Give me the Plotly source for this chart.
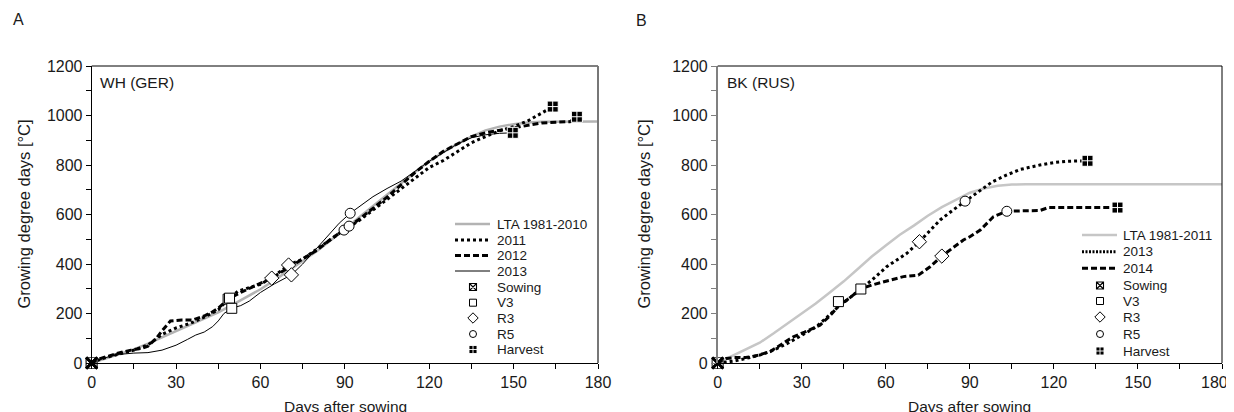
import plotly.graph_objects as go

W, H = 1234, 412
OX, OY = 8, 8   # page body offset of the figure in the browser window
FONT = "Arial, Liberation Sans, sans-serif"

# ---------------- Panel A : WH (GER) ----------------
A_lta_days = [0, 5, 10, 15, 20, 25, 30, 35, 40, 45, 50, 55, 60, 65, 70, 75, 80, 85, 90, 95, 100, 105,
              110, 115, 120, 125, 130, 135, 140, 145, 150, 155, 160, 165, 170, 175, 180]
A_lta_gdd = [0, 18, 36, 55, 78, 103, 128, 152, 178, 205, 235, 265, 298, 335, 372, 412, 452, 495, 540, 588,
             635, 682, 728, 772, 815, 852, 885, 915, 940, 955, 965, 972, 975, 976, 976, 976, 976]

A_2011_days = [0, 3, 6, 10, 15, 20, 25, 30, 35, 40, 45, 48.5, 52, 57, 60, 65, 70, 75, 80, 85, 89.7, 95,
               100, 105, 110, 115, 120, 125, 130, 135, 140, 145, 150, 155, 160, 163.9]
A_2011_gdd = [0, 15, 25, 38, 52, 73, 115, 142, 160, 185, 215, 258, 290, 308, 318, 352, 396, 420, 460, 500,
              537, 575, 618, 660, 705, 748, 790, 818, 855, 890, 915, 938, 955, 978, 1010, 1036]

A_2012_days = [0, 3, 6, 10, 14, 18, 20, 23, 25, 28, 32, 36, 40, 43, 45, 49, 53, 57, 60, 64, 68, 72, 76, 80,
               85, 91.5, 95, 100, 105, 110, 115, 120, 125, 130, 135, 140, 145, 150, 155, 160, 165, 170, 172.5]
A_2012_gdd = [0, 18, 28, 42, 52, 60, 68, 100, 130, 170, 174, 174, 190, 207, 222, 262, 285, 305, 322, 343,
              372, 400, 425, 455, 500, 553, 580, 625, 670, 720, 770, 815, 855, 885, 915, 930, 940, 950, 962,
              970, 973, 975, 995]

A_2013_days = [0, 3, 6, 10, 15, 20, 25, 30, 34, 37, 40, 43, 45, 47, 49.8, 53, 56, 60, 65, 71, 75, 80, 85,
               88, 91.9, 95, 100, 105, 110, 115, 120, 125, 130, 135, 140, 145, 149.7]
A_2013_gdd = [0, 15, 25, 35, 40, 42, 52, 72, 95, 113, 125, 147, 170, 200, 221, 232, 250, 285, 320, 356, 400,
              462, 525, 565, 605, 630, 672, 705, 735, 775, 815, 850, 885, 910, 922, 928, 930]

A_sow_x, A_sow_y = [0, 0, 0], [0, 0, 0]
A_v3_x, A_v3_y = [48.5, 49, 49.8], [258, 262, 221]
A_r3_x, A_r3_y = [70, 64, 71], [396, 343, 356]
A_r5_x, A_r5_y = [89.7, 91.5, 91.9], [537, 553, 605]
A_hv_x, A_hv_y = [163.9, 172.5, 149.7], [1036, 995, 930]

# ---------------- Panel B : BK (RUS) ----------------
B_lta_days = [0, 5, 10, 15, 20, 25, 30, 35, 40, 45, 50, 55, 60, 65, 70, 75, 80, 85, 90, 95, 100, 105, 110, 180]
B_lta_gdd = [0, 28, 55, 82, 120, 160, 197, 240, 285, 330, 380, 430, 475, 518, 555, 595, 630, 660, 688, 705,
             716, 721, 722, 722]

B_2013_days = [0, 3, 6, 10, 15, 20, 25, 30, 35, 40, 43.1, 47, 51.1, 55, 60.3, 64, 67.5, 72, 76, 79.4, 84,
               88.3, 93.7, 98, 103.2, 108, 115, 120, 124.6, 128, 132]
B_2013_gdd = [0, 4, 8, 18, 32, 52, 80, 112, 145, 195, 228, 262, 299, 335, 389, 415, 443, 490, 540, 578, 618,
              654, 699, 732, 760, 782, 800, 810, 815, 817, 817]

B_2014_days = [0, 3, 6, 10, 14, 18.7, 22, 27, 31, 36.5, 40, 43.1, 47, 51.1, 55, 59, 63, 66.3, 71.6, 75.8, 80,
               84, 87.7, 90, 93.7, 98.4, 103.2, 110, 115, 118, 125, 135, 142.7]
B_2014_gdd = [0, 18, 22, 22, 30, 46, 70, 106, 125, 153, 190, 230, 262, 299, 315, 328, 340, 349, 355, 389, 432,
              465, 497, 510, 537, 591, 613, 615, 616, 628, 628, 628, 628]

B_sow_x, B_sow_y = [0, 0], [0, 0]
B_v3_x, B_v3_y = [51.1, 43.1], [299, 248]
B_r3_x, B_r3_y = [72, 80], [490, 432]
B_r5_x, B_r5_y = [88.3, 103.2], [654, 613]
B_hv_x, B_hv_y = [132, 142.7], [817, 628]

x_ticks = [0, 30, 60, 90, 120, 150, 180]
x_ticktext = ["0", "30", "60", "90", "120", "150", "180"]
y_ticks = [0, 200, 400, 600, 800, 1000, 1200]

A_legend = ["LTA 1981-2010", "2011", "2012", "2013", "Sowing", "V3", "R3", "R5", "Harvest"]
B_legend = ["LTA 1981-2011", "2013", "2014", "Sowing", "V3", "R3", "R5", "Harvest"]

# ---------------- styles ----------------
LTA_A = dict(color="#b3b3b3", width=2.5)
LTA_B = dict(color="#c6c6c6", width=2.5)
DOT = dict(color="black", width=3, dash="dot")
DASH = dict(color="black", width=3, dash="6px,3px")
THIN = dict(color="black", width=1)

MK = {
    "Sowing": dict(symbol="square-x-open", size=10, color="black", line=dict(color="black", width=1.3)),
    "V3": dict(symbol="square", size=10, color="white", line=dict(color="black", width=1)),
    "R3": dict(symbol="diamond", size=11, color="white", line=dict(color="black", width=1)),
    "R5": dict(symbol="circle", size=10, color="white", line=dict(color="black", width=1)),
    "Harvest": dict(symbol="square-cross", size=11, color="black", line=dict(color="white", width=1)),
}
SOW_BOX = dict(symbol="square-open", size=11, color="#555555", line=dict(color="#555555", width=1))
SOW_X = dict(symbol="x-thin-open", size=11, color="black", line=dict(color="black", width=2.6))


def px(x):
    return (x - OX) / W


def py(y):
    return 1 - (y - OY) / H


fig = go.Figure()

xa_dom = [px(91.7), px(598)]
xb_dom = [px(717.7), px(1222)]
y_dom = [py(363), py(66)]


def line_tr(x, y, ln, xa, ya):
    fig.add_trace(go.Scatter(x=x, y=y, mode="lines", line=ln, xaxis=xa, yaxis=ya,
                             showlegend=False, hoverinfo="skip", cliponaxis=False))


def mk_tr(x, y, marker, xa, ya):
    fig.add_trace(go.Scatter(x=x, y=y, mode="markers", marker=dict(marker), xaxis=xa, yaxis=ya,
                             showlegend=False, hoverinfo="skip", cliponaxis=False))


# Panel A
line_tr(A_lta_days, A_lta_gdd, LTA_A, "x", "y")
line_tr(A_2013_days, A_2013_gdd, THIN, "x", "y")
line_tr(A_2012_days, A_2012_gdd, DASH, "x", "y")
line_tr(A_2011_days, A_2011_gdd, DOT, "x", "y")
for nm, xs, ys in [("V3", A_v3_x, A_v3_y), ("R3", A_r3_x, A_r3_y), ("R5", A_r5_x, A_r5_y),
                   ("Harvest", A_hv_x, A_hv_y)]:
    mk_tr(xs, ys, MK[nm], "x", "y")
mk_tr(A_sow_x, A_sow_y, SOW_BOX, "x", "y")
mk_tr(A_sow_x, A_sow_y, SOW_X, "x", "y")

# Panel B
line_tr(B_lta_days, B_lta_gdd, LTA_B, "x2", "y2")
line_tr(B_2014_days, B_2014_gdd, DASH, "x2", "y2")
line_tr(B_2013_days, B_2013_gdd, DOT, "x2", "y2")
for nm, xs, ys in [("V3", B_v3_x, B_v3_y), ("R3", B_r3_x, B_r3_y), ("R5", B_r5_x, B_r5_y),
                   ("Harvest", B_hv_x, B_hv_y)]:
    mk_tr(xs, ys, MK[nm], "x2", "y2")
mk_tr(B_sow_x, B_sow_y, SOW_BOX, "x2", "y2")
mk_tr(B_sow_x, B_sow_y, SOW_X, "x2", "y2")

# ---------------- custom legends (overlay axes in window-pixel units, transparent) ----------------
annotations = []


def legend(labels, styles, rows, x0, x1, xm, xt):
    for lab, st, r in zip(labels, styles, rows):
        if st[0] == "line":
            fig.add_trace(go.Scatter(x=[x0, x1], y=[r, r], mode="lines", line=st[1],
                                     xaxis="x3", yaxis="y3", showlegend=False, hoverinfo="skip"))
        else:
            mk = dict(MK[st[1]])
            mk["size"] = 7 if st[1] != "R3" else 8
            if st[1] == "Sowing":
                mk["line"] = dict(color="black", width=1.1)
            if st[1] == "Harvest":
                mk["size"] = 8
                mk["line"] = dict(color="white", width=0.9)
            fig.add_trace(go.Scatter(x=[xm], y=[r], mode="markers", marker=mk,
                                     xaxis="x3", yaxis="y3", showlegend=False, hoverinfo="skip"))
        annotations.append(dict(x=px(xt), y=py(r), xref="paper", yref="paper", text=lab,
                                showarrow=False, xanchor="left", yanchor="middle",
                                font=dict(size=13.5, color="#1a1a1a", family=FONT)))


A_styles = [("line", LTA_A), ("line", DOT), ("line", DASH), ("line", THIN), ("mk", "Sowing"),
            ("mk", "V3"), ("mk", "R3"), ("mk", "R5"), ("mk", "Harvest")]
A_rows = [224, 240, 255.5, 271, 287, 302.7, 318, 334, 349.5]
legend(A_legend, A_styles, A_rows, 455, 490, 473, 495)

B_styles = [("line", LTA_B), ("line", dict(color="black", width=3, dash="2px,1.5px")),
            ("line", DASH), ("mk", "Sowing"), ("mk", "V3"), ("mk", "R3"), ("mk", "R5"), ("mk", "Harvest")]
B_rows = [235, 251.7, 268.3, 285.5, 301, 317, 334, 351]
legend(B_legend, B_styles, B_rows, 1082, 1117, 1100, 1121)


# ---------------- texts ----------------
def txt(x, y, s, size, **kw):
    d = dict(x=px(x), y=py(y), xref="paper", yref="paper", text=s, showarrow=False,
             xanchor="center", yanchor="middle", font=dict(size=size, color="#1a1a1a", family=FONT))
    d.update(kw)
    annotations.append(d)


txt(11, 20, "A", 16, xanchor="left")
txt(634, 21, "B", 16, xanchor="left")
txt(98, 82, "WH (GER)", 15.5, xanchor="left")
txt(725, 82, "BK (RUS)", 15.5, xanchor="left")
txt(23, 214.5, "Growing degree days [°C]", 16.5, textangle=-90)
txt(643, 214.5, "Growing degree days [°C]", 16.5, textangle=-90)
txt(345, 406, "Days after sowing", 15.5)
txt(970, 406, "Days after sowing", 15.5)
# last tick label of panel B, kept inside the window edge
txt(1230, 382, x_ticktext[-1], 16, xanchor="right")


# ---------------- axes ----------------
def xaxis(dom, anchor, ticktext):
    return dict(domain=dom, anchor=anchor, range=[0, 180], tickvals=x_ticks, ticktext=ticktext,
                ticks="outside", ticklen=5,
                tickcolor="black", showline=True, linecolor="black", linewidth=1, showgrid=False,
                zeroline=False, automargin=False, tickfont=dict(size=16, color="#1a1a1a", family=FONT),
                minor=dict(tickvals=[15, 45, 75, 105, 135, 165], ticks="outside", ticklen=5,
                           tickcolor="black", showgrid=False))


def yaxis(anchor, color):
    return dict(domain=y_dom, anchor=anchor, range=[0, 1200], tickvals=y_ticks, ticks="outside", ticklen=5,
                tickcolor=color, showline=True, linecolor=color, linewidth=1.5 if color != "black" else 1,
                showgrid=False, zeroline=False, automargin=False,
                tickfont=dict(size=16, color="#1a1a1a", family=FONT),
                minor=dict(tickvals=[100, 300, 500, 700, 900, 1100], ticks="outside", ticklen=5,
                           tickcolor=color, showgrid=False))


B_ticktext = x_ticktext[:-1] + [""]

shapes = [
    dict(type="line", xref="x domain", yref="y domain", x0=0, x1=1, y0=1, y1=1, line=dict(color="black", width=1)),
    dict(type="line", xref="x domain", yref="y domain", x0=1, x1=1, y0=0, y1=1, line=dict(color="#777777", width=2)),
    dict(type="line", xref="x2 domain", yref="y2 domain", x0=0, x1=1, y0=1, y1=1, line=dict(color="black", width=1)),
    dict(type="line", xref="x2 domain", yref="y2 domain", x0=1, x1=1, y0=0, y1=1, line=dict(color="black", width=1)),
]

fig.update_layout(
    width=W, height=H, autosize=False, margin=dict(l=0, r=0, t=0, b=0, pad=0, autoexpand=False),
    paper_bgcolor="white", plot_bgcolor="rgba(0,0,0,0)", showlegend=False,
    font=dict(family=FONT, color="#1a1a1a"),
    xaxis=xaxis(xa_dom, "y", x_ticktext), yaxis=yaxis("x", "black"),
    xaxis2=xaxis(xb_dom, "y2", B_ticktext), yaxis2=yaxis("x2", "#808080"),
    xaxis3=dict(domain=[0, 1], anchor="y3", range=[OX, W + OX], visible=False, fixedrange=True, automargin=False),
    yaxis3=dict(domain=[0, 1], anchor="x3", range=[H + OY, OY], visible=False, fixedrange=True, automargin=False),
    annotations=annotations, shapes=shapes,
)

fig.write_html("out.html")
